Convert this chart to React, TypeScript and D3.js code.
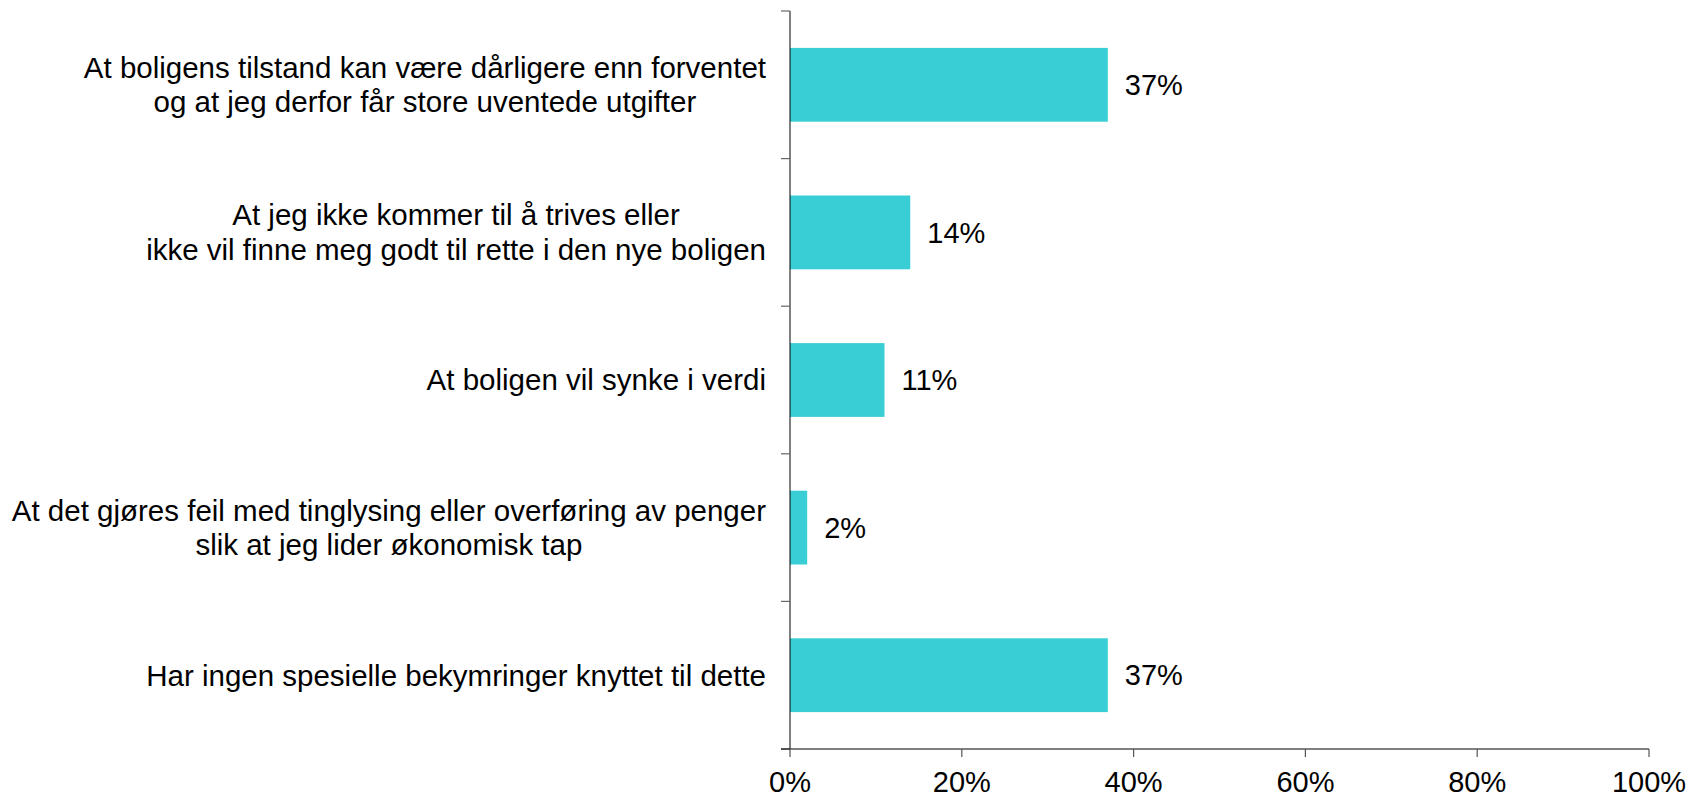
import React, { useEffect, useRef } from "react";
import * as d3 from "d3";

const categories: string[] = [
  "At boligens tilstand kan være dårligere enn forventet\nog at jeg derfor får store uventede utgifter",
  "At jeg ikke kommer til å trives eller\nikke vil finne meg godt til rette i den nye boligen",
  "At boligen vil synke i verdi",
  "At det gjøres feil med tinglysing eller overføring av penger\nslik at jeg lider økonomisk tap",
  "Har ingen spesielle bekymringer knyttet til dette",
];
const values: number[] = [37, 14, 11, 2, 37];
const xTicks: number[] = [0, 20, 40, 60, 80, 100];

const W = 1690;
const H = 797;
const FONT = "'Liberation Sans', Arial, Helvetica, sans-serif";
const FS = 29;
const FS_CAT = 29.5;
const BAR = "#39CED5";

export default function App() {
  const ref = useRef<SVGSVGElement | null>(null);

  useEffect(() => {
    const svg = d3.select(ref.current);
    svg.selectAll("*").remove();

    const x = d3.scaleLinear().domain([0, 100]).range([790, 1649]);
    const y = d3
      .scaleBand<string>()
      .domain(categories)
      .range([11, 749])
      .paddingInner(0.5)
      .paddingOuter(0.25);

    const g = svg.append("g");

    g.selectAll("rect.bar")
      .data(categories)
      .join("rect")
      .attr("class", "bar")
      .attr("x", x(0))
      .attr("y", (d) => y(d)!)
      .attr("width", (_d, i) => x(values[i]) - x(0))
      .attr("height", y.bandwidth())
      .attr("fill", BAR);

    g.selectAll("text.val")
      .data(categories)
      .join("text")
      .attr("class", "val")
      .attr("x", (_d, i) => x(values[i]) + 17)
      .attr("y", (d) => y(d)! + y.bandwidth() / 2)
      .attr("dy", "0.35em")
      .attr("font-family", FONT)
      .attr("font-size", FS)
      .attr("fill", "#000")
      .text((_d, i) => `${values[i]}%`);

    const step = y.step();
    const y0 = y.range()[0];
    g.append("line")
      .attr("x1", x(0))
      .attr("x2", x(0))
      .attr("y1", y0)
      .attr("y2", y.range()[1])
      .attr("stroke", "#000")
      .attr("stroke-width", 1);
    const bounds = d3.range(categories.length + 1).map((i) => y0 + i * step);
    g.selectAll("line.ytick")
      .data(bounds)
      .join("line")
      .attr("class", "ytick")
      .attr("x1", x(0) - 9)
      .attr("x2", x(0))
      .attr("y1", (d) => d)
      .attr("y2", (d) => d)
      .attr("stroke", "#666")
      .attr("stroke-width", 1.2);

    const axisY = y.range()[1];
    g.append("line")
      .attr("x1", x(0) - 9)
      .attr("x2", x(100))
      .attr("y1", axisY)
      .attr("y2", axisY)
      .attr("stroke", "#000")
      .attr("stroke-width", 1);
    g.selectAll("line.xtick")
      .data(xTicks)
      .join("line")
      .attr("class", "xtick")
      .attr("x1", (d) => x(d))
      .attr("x2", (d) => x(d))
      .attr("y1", axisY)
      .attr("y2", axisY + 8)
      .attr("stroke", "#555")
      .attr("stroke-width", 1.2);
    g.selectAll("text.xlab")
      .data(xTicks)
      .join("text")
      .attr("class", "xlab")
      .attr("x", (d) => x(d))
      .attr("y", axisY + 43)
      .attr("text-anchor", "middle")
      .attr("font-family", FONT)
      .attr("font-size", FS)
      .attr("fill", "#000")
      .text((d) => `${d}%`);

    const right = 766;
    const lh = 34.5;
    categories.forEach((c) => {
      const lines = c.split("\n");
      const cy = y(c)! + y.bandwidth() / 2;
      const t = g
        .append("text")
        .attr("font-family", FONT)
        .attr("font-size", FS_CAT)
        .attr("fill", "#000")
        .attr("text-anchor", "middle");
      const spans = lines.map((l, i) =>
        t
          .append("tspan")
          .attr("y", cy + (i - (lines.length - 1) / 2) * lh)
          .attr("dy", "0.35em")
          .text(l)
      );
      let maxW = 0;
      spans.forEach((s) => {
        const n = s.node() as SVGTSpanElement;
        maxW = Math.max(maxW, n.getComputedTextLength());
      });
      spans.forEach((s) => s.attr("x", right - maxW / 2));
    });
  }, []);

  return (
    <svg
      ref={ref}
      width={W}
      height={H}
      style={{ position: "absolute", left: 0, top: 0, display: "block", background: "#fff" }}
    />
  );
}
